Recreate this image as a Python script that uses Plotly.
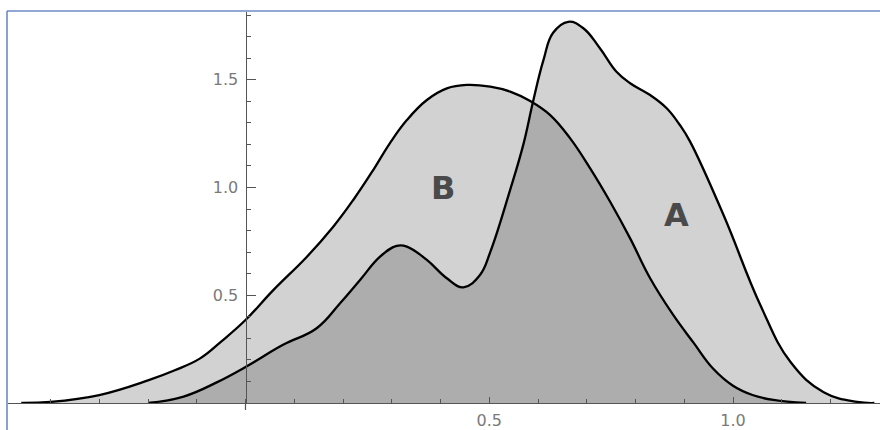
import plotly.graph_objects as go

# Curve B (broad, peak ~0.45)
b_x = [-0.46, -0.40, -0.30, -0.20, -0.145, -0.093, -0.05, 0.0, 0.057, 0.126, 0.18, 0.221,
       0.262, 0.296, 0.331, 0.372, 0.413, 0.454, 0.502, 0.543, 0.584, 0.625, 0.666,
       0.707, 0.748, 0.789, 0.830, 0.877, 0.919, 0.959, 1.0, 1.04, 1.083, 1.15]
b_y = [0.0, 0.005, 0.037, 0.105, 0.152, 0.207, 0.285, 0.385, 0.524, 0.679, 0.818, 0.942,
       1.081, 1.205, 1.313, 1.406, 1.460, 1.476, 1.468, 1.445, 1.401, 1.336, 1.228,
       1.089, 0.934, 0.764, 0.579, 0.41, 0.28, 0.16, 0.08, 0.037, 0.014, 0.0]

# Curve A (bimodal, peak ~0.66)
a_x = [-0.20, -0.127, -0.058, 0.0, 0.077, 0.146, 0.194, 0.235, 0.276, 0.31, 0.331,
       0.372, 0.413, 0.447, 0.481, 0.502, 0.543, 0.570, 0.590, 0.611, 0.631, 0.662,
       0.693, 0.727, 0.761, 0.789, 0.830, 0.864, 0.891, 0.912, 0.981, 1.056, 1.118,
       1.186, 1.255, 1.29]
a_y = [0.0, 0.03, 0.097, 0.167, 0.27, 0.347, 0.463, 0.571, 0.679, 0.729, 0.726,
       0.664, 0.579, 0.537, 0.594, 0.70, 0.99, 1.20, 1.40, 1.590, 1.718, 1.769,
       1.739, 1.646, 1.537, 1.484, 1.429, 1.368, 1.29, 1.213, 0.87, 0.455, 0.19,
       0.05, 0.005, 0.0]

x_tick_vals = [0.5, 1.0]
x_tick_text = ["0.5", "1.0"]
y_tick_vals = [0.5, 1.0, 1.5]
y_tick_text = ["0.5", "1.0", "1.5"]

labels = ["B", "A"]
label_x = [0.405, 0.885]
label_y = [1.0, 0.872]

W, H = 880, 430
ML, MR, MT, MB = 8, 0, 12, 27
px_per_x = 487.5
px_per_y = 215.5
x0_px = 245.5
plot_w = W - ML - MR
plot_h = H - MT - MB

x_range = [(ML - x0_px) / px_per_x, (W - MR - x0_px) / px_per_x]
y_range = [0, plot_h / px_per_y]

fill = "rgba(0,0,0,0.175)"

fig = go.Figure()
for xs, ys in [(b_x, b_y), (a_x, a_y)]:
    fig.add_trace(go.Scatter(
        x=xs, y=ys, mode="lines", fill="tozeroy", fillcolor=fill,
        line=dict(color="black", width=2.3, shape="spline", smoothing=1.2),
        hoverinfo="skip", showlegend=False,
    ))

for t, lx, ly in zip(labels, label_x, label_y):
    fig.add_annotation(x=lx, y=ly, text=f"<b>{t}</b>", showarrow=False,
                       font=dict(family="DejaVu Sans", size=32, color="#4a4a4a"))

# light blue frame
fig.add_shape(type="line", xref="paper", yref="paper",
              x0=(7 - ML) / plot_w, x1=(7 - ML) / plot_w,
              y0=-MB / plot_h, y1=1 + (MT - 11) / plot_h,
              line=dict(color="#6b8cc6", width=1.6))
fig.add_shape(type="line", xref="paper", yref="paper",
              x0=(7 - ML) / plot_w, x1=1.0,
              y0=1 + (MT - 11) / plot_h, y1=1 + (MT - 11) / plot_h,
              line=dict(color="#6b8cc6", width=1.6))
# y axis stub below the x axis
fig.add_shape(type="line", xref="x", yref="paper", x0=0, x1=0,
              y0=-7 / plot_h, y1=0, line=dict(color="#555", width=1.2))

tickfont = dict(family="DejaVu Sans", size=16, color="#7a7a7a")
fig.update_layout(
    width=W, height=H,
    margin=dict(l=ML, r=MR, t=MT, b=MB, pad=0),
    paper_bgcolor="white", plot_bgcolor="white",
    xaxis=dict(range=x_range, showgrid=False, zeroline=False,
               showline=True, linecolor="#555", linewidth=1.2,
               tickmode="array", tickvals=x_tick_vals, ticktext=x_tick_text,
               ticks="inside", ticklen=6, tickcolor="#555", tickwidth=1,
               tickfont=tickfont, ticklabelstandoff=3,
               minor=dict(tick0=0, dtick=0.1, ticks="inside", ticklen=4,
                          tickcolor="#555", tickwidth=1)),
    yaxis=dict(range=y_range, showgrid=False, zeroline=False,
               anchor="free", position=(x0_px - ML) / plot_w,
               showline=True, linecolor="#555", linewidth=1.2,
               tickmode="array", tickvals=y_tick_vals, ticktext=y_tick_text,
               ticks="inside", ticklen=9, tickcolor="#555", tickwidth=1,
               tickfont=tickfont, ticklabelstandoff=4,
               minor=dict(tick0=0, dtick=0.1, ticks="inside", ticklen=4,
                          tickcolor="#555", tickwidth=1)),
)

fig.write_html("out.html", config={"displayModeBar": False},
               post_script="document.body.style.margin='0';document.body.style.overflow='hidden';")
